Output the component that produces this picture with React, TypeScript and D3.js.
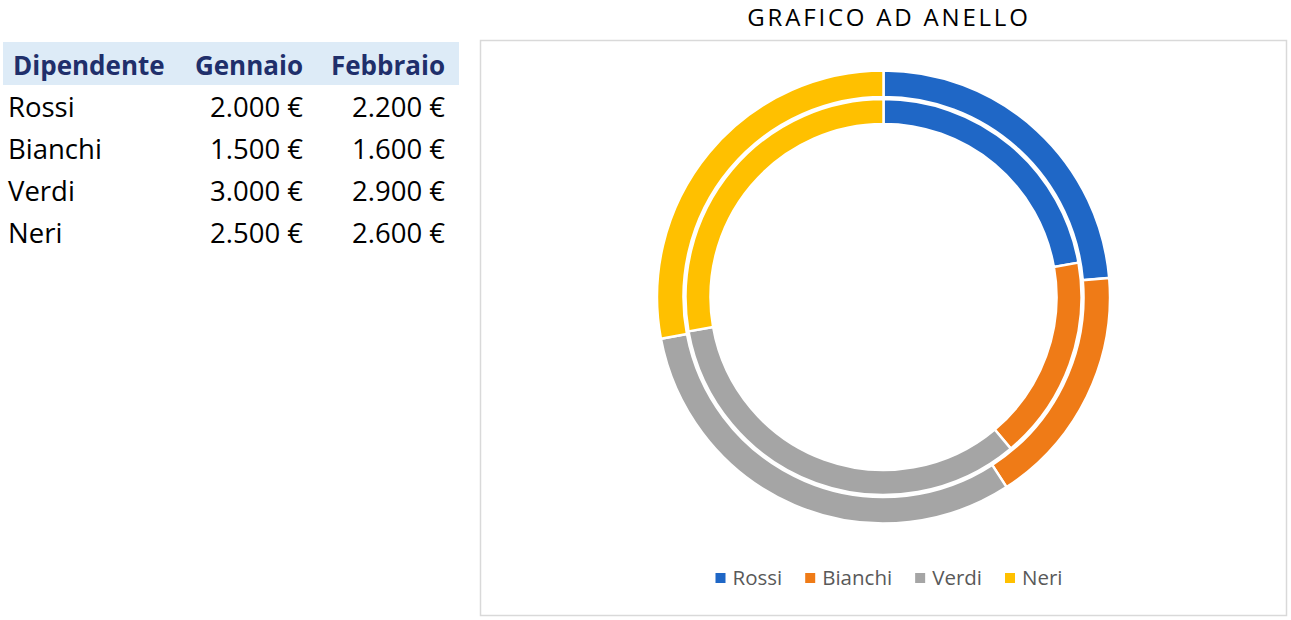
import React, { useEffect, useRef } from 'react';
import * as d3 from 'd3';

// Data from the sheet
const employees = ['Rossi', 'Bianchi', 'Verdi', 'Neri'];
const months = ['Gennaio', 'Febbraio'];
const gennaio = [2000, 1500, 3000, 2500];
const febbraio = [2200, 1600, 2900, 2600];
const colors = ['#1F67C6', '#EF7B17', '#A5A5A5', '#FFC000'];

const W = 1291;
const H = 620;
const FONT = '"Open Sans", "Noto Sans", sans-serif';

const fmtEuro = (v: number) =>
  d3.format(',')(v).replace(/,/g, '.') + ' €';

export default function App() {
  const svgRef = useRef<SVGSVGElement | null>(null);

  useEffect(() => {
    if (!svgRef.current) return;
    const svg = d3.select(svgRef.current);
    svg.selectAll('*').remove();

    // ---- Table on the left ----
    const table = svg.append('g').attr('class', 'table');
    const headerY = 42;
    const headerH = 43;
    const rowH = 42;
    const colRight = [0, 303, 445];

    table.append('rect')
      .attr('x', 3).attr('y', headerY)
      .attr('width', 456).attr('height', headerH)
      .attr('fill', '#DDEBF7');

    const headers = ['Dipendente', ...months];
    table.selectAll('text.hdr')
      .data(headers)
      .enter()
      .append('text')
      .attr('class', 'hdr')
      .attr('x', (d, i) => (i === 0 ? 13 : colRight[i]))
      .attr('y', headerY + headerH / 2 + 2)
      .attr('dy', '0.35em')
      .attr('text-anchor', (d, i) => (i === 0 ? 'start' : 'end'))
      .attr('font-family', FONT)
      .attr('font-weight', 700)
      .attr('font-size', 26)
      .attr('fill', '#1F2F6B')
      .text(d => d);

    const rows = table.selectAll('g.row')
      .data(employees)
      .enter()
      .append('g')
      .attr('class', 'row')
      .attr('transform', (d, i) => `translate(0,${headerY + headerH + rowH * i + rowH / 2 + 1})`);

    rows.append('text')
      .attr('x', 8)
      .attr('dy', '0.35em')
      .attr('font-family', FONT)
      .attr('font-size', 27.5)
      .attr('fill', '#000')
      .text(d => d);

    rows.append('text')
      .attr('x', colRight[1])
      .attr('dy', '0.35em')
      .attr('text-anchor', 'end')
      .attr('font-family', FONT)
      .attr('font-size', 27.5)
      .text((d, i) => fmtEuro(gennaio[i]));

    rows.append('text')
      .attr('x', colRight[2])
      .attr('dy', '0.35em')
      .attr('text-anchor', 'end')
      .attr('font-family', FONT)
      .attr('font-size', 27.5)
      .text((d, i) => fmtEuro(febbraio[i]));

    // ---- Chart area ----
    const box = { x: 480.5, y: 40.5, w: 806, h: 575 };
    svg.append('rect')
      .attr('x', box.x).attr('y', box.y)
      .attr('width', box.w).attr('height', box.h)
      .attr('fill', '#fff')
      .attr('stroke', '#D9D9D9')
      .attr('stroke-width', 1.5);

    svg.append('text')
      .attr('x', 889)
      .attr('y', 18)
      .attr('dy', '0.35em')
      .attr('text-anchor', 'middle')
      .attr('font-family', FONT)
      .attr('font-size', 24)
      .attr('letter-spacing', 2.8)
      .attr('fill', '#000')
      .text('GRAFICO AD ANELLO');

    const cx = 883.5;
    const cy = 297;
    const pie = d3.pie<number>().sort(null).value(d => d);

    const rings = [
      { values: gennaio, inner: 173, outer: 198 },
      { values: febbraio, inner: 200, outer: 226.5 },
    ];

    const chart = svg.append('g').attr('transform', `translate(${cx},${cy})`);
    rings.forEach((ring, ri) => {
      const arc = d3.arc<d3.PieArcDatum<number>>()
        .innerRadius(ring.inner)
        .outerRadius(ring.outer);
      chart.append('g')
        .attr('class', `ring-${ri}`)
        .selectAll('path')
        .data(pie(ring.values))
        .enter()
        .append('path')
        .attr('d', arc)
        .attr('fill', (d, i) => colors[i])
        .attr('stroke', '#fff')
        .attr('stroke-width', 2.5)
        .attr('stroke-linejoin', 'miter');
    });

    // ---- Legend ----
    const legend = svg.append('g').attr('class', 'legend');
    const items = legend.selectAll('g.item')
      .data(employees)
      .enter()
      .append('g')
      .attr('class', 'item');

    items.append('rect')
      .attr('width', 10).attr('height', 10)
      .attr('y', -5)
      .attr('fill', (d, i) => colors[i]);

    items.append('text')
      .attr('x', 17)
      .attr('dy', '0.35em')
      .attr('font-family', FONT)
      .attr('font-size', 20.5)
      .attr('fill', '#595959')
      .text(d => d);

    const gap = 23;
    const widths: number[] = [];
    items.each(function () {
      const t = d3.select(this).select('text').node() as SVGTextElement;
      widths.push(17 + t.getComputedTextLength());
    });
    const total = d3.sum(widths) + gap * (widths.length - 1);
    let x = 889 - total / 2;
    items.attr('transform', (d, i) => {
      const tx = x;
      x += widths[i] + gap;
      return `translate(${tx},${578})`;
    });
  }, []);

  return (
    <svg
      ref={svgRef}
      width={W}
      height={H}
      style={{ position: 'absolute', left: 0, top: 0, background: '#fff' }}
    />
  );
}
